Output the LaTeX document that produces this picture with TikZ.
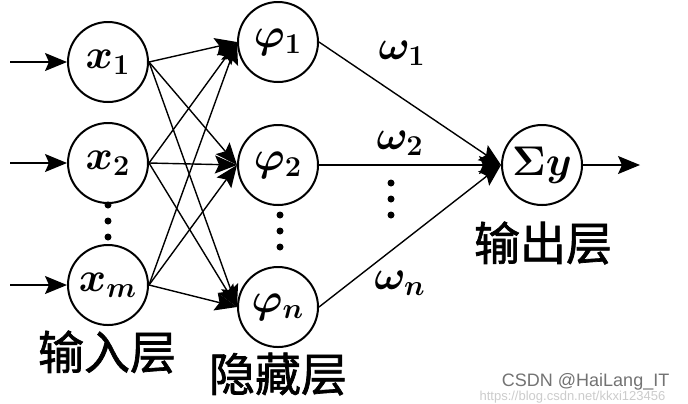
\documentclass[tikz,border=0pt]{standalone}
\usepackage{fontspec}
\newfontfamily\cjk[FakeBold=1.5]{Noto Sans CJK SC}
\newfontfamily\wmfont{Liberation Sans}
\usetikzlibrary{arrows.meta,positioning}
\tikzstyle{every node}=[inner sep=1pt]
\tikzstyle{neuron}=[circle, draw=black, line width=1pt, minimum size=40pt, inner sep=0pt, font=\fontsize{21}{24}\selectfont\boldmath]
\tikzstyle{layer}=[font=\fontsize{23}{26}\selectfont\cjk]
\tikzstyle{weight}=[font=\fontsize{21}{24}\selectfont\boldmath]
\tikzstyle{dot}=[fill=black]
\begin{document}
\begin{tikzpicture}[x=0.5pt, y=-0.5pt, ->, >={Stealth[length=11pt,width=9pt,inset=2pt]}, line width=0.7pt]
		
		\fill[white] (0,0) rectangle (688,403);
		\useasboundingbox (0,0) rectangle (688,403);
		
		\node[neuron] at (108, 62) (x1) {$x_1$};
		\node[neuron] at (108, 163) (x2) {$x_2$};
		\node[neuron] at (108, 285) (xm) {$x_m$};
		
		\node[neuron] at (278, 42) (phi1) {$\varphi_1$};
		\node[neuron] at (278, 165) (phi2) {$\varphi_2$};
		\node[neuron] at (278, 307) (phin) {$\varphi_n$};
		
		\node[neuron] at (542, 165) (sum) {$\Sigma y$};
		
		\coordinate (in1) at (10, 62);
		\coordinate (in2) at (10, 163);
		\coordinate (inm) at (10, 285);
		\coordinate (out) at (640, 165);
		
		\node[layer] at (107, 352) (lin) {输入层};
		\node[layer] at (278, 374) (lhid) {隐藏层};
		\node[layer] at (543, 243) (lout) {输出层};
		
		\node[weight] at (402, 53) (w1) {$\omega_1$};
		\node[weight] at (400, 143) (w2) {$\omega_2$};
		\node[weight] at (400, 283) (wn) {$\omega_n$};
		
		\foreach \y in {205, 221, 237} \fill[dot] (108, \y) circle (3.5);
		\foreach \y in {215, 231, 247} \fill[dot] (280, \y) circle (3.5);
		\foreach \y in {183, 199, 215} \fill[dot] (391, \y) circle (3.5);
		
		\path (in1) edge (x1.west);
		\path (in2) edge (x2.west);
		\path (inm) edge (xm.west);
		
		\foreach \i in {x1, x2, xm}
			\foreach \j in {phi1, phi2, phin}
				\path (\i.east) edge (\j.west);
		
		\foreach \j in {phi1, phi2, phin}
			\path (\j.east) edge (sum.west);
		
		\path (sum.east) edge (out);
		
		\node[font=\wmfont\fontsize{9}{10}\selectfont, text=black!55, anchor=east] at (672, 382) (wm) {CSDN @HaiLang\_IT};
		\node[font=\wmfont\fontsize{6.5}{7}\selectfont, text=black!20, anchor=east] at (668, 397) (url) {https://blog.csdn.net/kkxi123456};
		
		\end{tikzpicture}
\end{document}
